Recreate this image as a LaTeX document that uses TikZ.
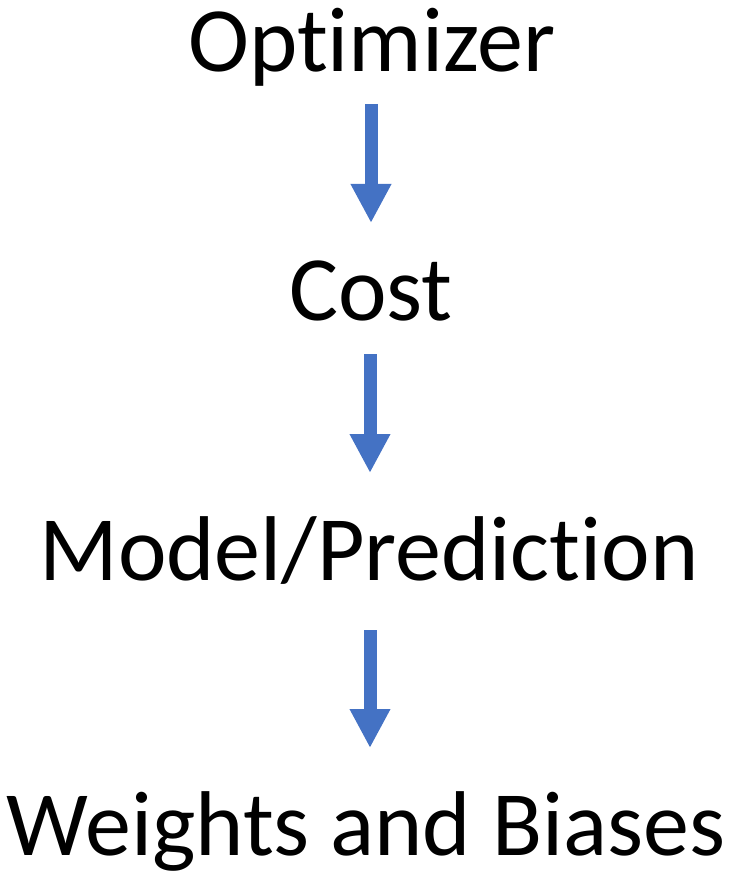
\documentclass[tikz,border=0pt]{standalone}
\usepackage{fontspec}
\setmainfont{Carlito}[Ligatures=NoCommon]
\usetikzlibrary{arrows.meta}
\definecolor{officeblue}{HTML}{4472C4}
\begin{document}
\begin{tikzpicture}[x=1pt,y=-1pt,
  stage/.style={inner sep=0pt,anchor=base,font=\fontsize{92}{110}\selectfont},
  flowarrow/.style={officeblue,line width=13pt,-{Triangle[width=38pt,length=39pt]}}]
  \useasboundingbox (0,0) rectangle (734,874);

  % Etapes
  \node[stage] (opt)   at (372,72)  {Optimizer};
  \node[stage] (cost)  at (371,320) {Cost};
  \node[stage] (model) at (369,580) {Model/Prediction};
  \node[stage] (wb)    at (366,855) {Weights and Biases};

  % Fleches
  \coordinate (a1) at (371,72);
  \coordinate (b1) at (371,320);
  \coordinate (a2) at (370,320);
  \coordinate (b2) at (370,580);
  \coordinate (a3) at (370,580);
  \coordinate (b3) at (370,855);
  \draw[flowarrow,shorten <=32pt,shorten >=97pt]  (a1) -- (b1);
  \draw[flowarrow,shorten <=34pt,shorten >=107pt] (a2) -- (b2);
  \draw[flowarrow,shorten <=50pt,shorten >=107pt] (a3) -- (b3);
\end{tikzpicture}
\end{document}
